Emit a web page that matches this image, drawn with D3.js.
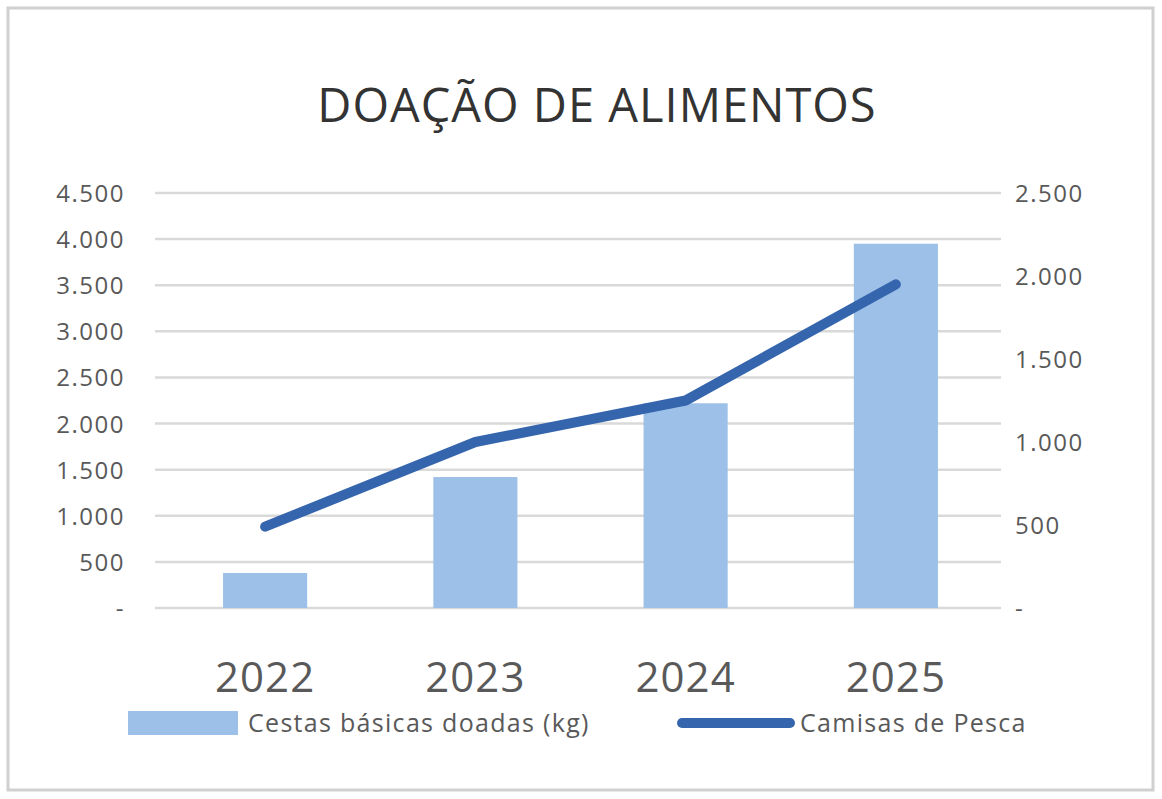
<!DOCTYPE html>
<html><head><meta charset="utf-8">
<script src="https://cdn.jsdelivr.net/npm/d3@7"></script>
<style>body{margin:0;background:#fff}svg{display:block}</style>
</head><body><svg id="c" width="1162" height="799"></svg>
<script>
const years = ["2022", "2023", "2024", "2025"];
const cestas = [380, 1420, 2220, 3950];
const camisas = [490, 1000, 1250, 1950];
const leftTicks = [0, 500, 1000, 1500, 2000, 2500, 3000, 3500, 4000, 4500];
const rightTicks = [0, 500, 1000, 1500, 2000, 2500];

const svg = d3.select("#c");
const font = "'Open Sans', 'Liberation Sans', sans-serif";
const fmt = v => v === 0 ? "-" : d3.format(",")(v).replace(/,/g, ".");

svg.append("rect").attr("x", 8).attr("y", 8).attr("width", 1145).attr("height", 782)
  .attr("fill", "#fff").attr("stroke", "#d0d0d0").attr("stroke-width", 3);

svg.append("text").attr("x", 597).attr("y", 122).attr("text-anchor", "middle")
  .attr("font-family", font).attr("font-size", 47).attr("letter-spacing", 1).attr("fill", "#333").text("DOAÇÃO DE ALIMENTOS");

const x = d3.scaleBand().domain(years).range([160, 1001]).paddingInner(0.6).paddingOuter(0.3);
const yL = d3.scaleLinear().domain([0, 4500]).range([608, 193]);
const yR = d3.scaleLinear().domain([0, 2500]).range([608, 193]);

svg.append("g").selectAll("line").data(leftTicks).join("line")
  .attr("x1", 155).attr("x2", 1001).attr("y1", d => yL(d)).attr("y2", d => yL(d))
  .attr("stroke", "#d9d9d9").attr("stroke-width", 2.5);

svg.append("g").selectAll("text").data(leftTicks).join("text")
  .attr("x", 125).attr("y", d => yL(d) + 9).attr("text-anchor", "end")
  .attr("font-family", font).attr("font-size", 24).attr("letter-spacing", 1.5).attr("fill", "#595959").text(fmt);

svg.append("g").selectAll("text").data(rightTicks).join("text")
  .attr("x", 1015).attr("y", d => yR(d) + 9).attr("text-anchor", "start")
  .attr("font-family", font).attr("font-size", 24).attr("letter-spacing", 1.5).attr("fill", "#595959").text(fmt);

svg.append("g").selectAll("rect").data(cestas).join("rect")
  .attr("x", (d, i) => x(years[i])).attr("width", x.bandwidth())
  .attr("y", d => yL(d)).attr("height", d => yL(0) - yL(d)).attr("fill", "#9dc0e8");

const line = d3.line().x((d, i) => x(years[i]) + x.bandwidth() / 2).y(d => yR(d));
svg.append("path").datum(camisas).attr("d", line).attr("fill", "none")
  .attr("stroke", "#3565ad").attr("stroke-width", 10).attr("stroke-linecap", "round").attr("stroke-linejoin", "round");

svg.append("g").selectAll("text").data(years).join("text")
  .attr("x", d => x(d) + x.bandwidth() / 2).attr("y", 692).attr("text-anchor", "middle")
  .attr("font-family", font).attr("font-size", 42).attr("letter-spacing", 1).attr("fill", "#595959").text(d => d);

svg.append("rect").attr("x", 128).attr("y", 711).attr("width", 110).attr("height", 24).attr("fill", "#9dc0e8");
svg.append("text").attr("x", 248).attr("y", 732).attr("font-family", font).attr("font-size", 25)
  .attr("letter-spacing", 1.3).attr("fill", "#595959").text("Cestas básicas doadas (kg)");
svg.append("line").attr("x1", 682).attr("x2", 790).attr("y1", 723).attr("y2", 723)
  .attr("stroke", "#3565ad").attr("stroke-width", 10).attr("stroke-linecap", "round");
svg.append("text").attr("x", 800).attr("y", 732).attr("font-family", font).attr("font-size", 25)
  .attr("letter-spacing", 1.3).attr("fill", "#595959").text("Camisas de Pesca");
</script></body></html>
